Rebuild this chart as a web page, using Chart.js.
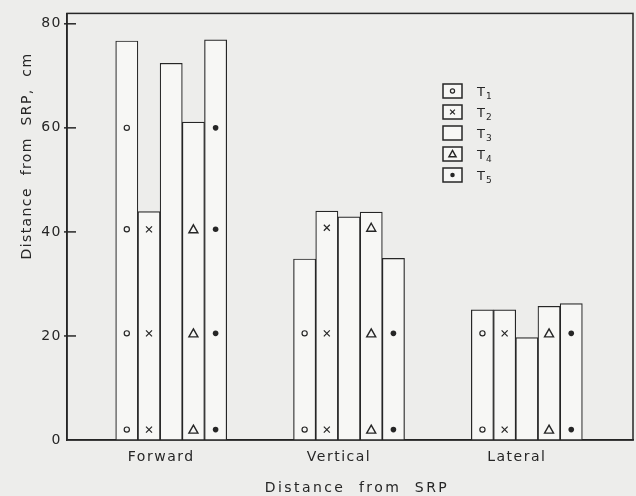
<!DOCTYPE html>
<html lang="en">
<head>
<meta charset="UTF-8">
<title>Distance from SRP</title>
<script src="https://cdn.jsdelivr.net/npm/chart.js"></script>
<style>
  html, body { margin: 0; padding: 0; background: #ededeb; }
  .chart-wrapper { position: relative; width: 636px; height: 496px; }
</style>
</head>
<body>
<div class="chart-wrapper"><canvas id="srpChart"></canvas></div>
<script>
// values (cm)
const categories = ['Forward', 'Vertical', 'Lateral'];
const seriesNames = ['1', '2', '3', '4', '5'];   // subscripts of T
const markKinds = ['circle', 'cross', 'none', 'triangle', 'dot'];
const t1 = [76.7, 34.8, 25.0];
const t2 = [43.9, 44.0, 25.0];
const t3 = [72.4, 42.9, 19.7];
const t4 = [61.1, 43.8, 25.7];
const t5 = [76.9, 34.9, 26.2];
// heights where the little symbols are printed inside each bar
const t1Marks = [[2, 20.5, 40.5, 60], [2, 20.5], [2, 20.5]];
const t2Marks = [[2, 20.5, 40.5], [2, 20.5, 40.8], [2, 20.5]];
const t3Marks = [[], [], []];
const t4Marks = [[2, 20.5, 40.5], [2, 20.5, 40.8], [2, 20.5]];
const t5Marks = [[2, 20.5, 40.5, 60], [2, 20.5], [2, 20.5]];
const yTicks = [0, 20, 40, 60, 80];

const allSeries = [t1, t2, t3, t4, t5];
const allMarks = [t1Marks, t2Marks, t3Marks, t4Marks, t5Marks];
const ink = '#262626';

Chart.defaults.font.family = "'DejaVu Sans', sans-serif";
Chart.defaults.color = ink;

function drawMark(ctx, kind, x, y, s) {
    ctx.save();
    ctx.strokeStyle = ink;
    ctx.fillStyle = ink;
    ctx.lineWidth = 1.2;
    ctx.beginPath();
    if (kind === 'circle') {
        ctx.arc(x, y, 2.6 * s, 0, Math.PI * 2);
        ctx.stroke();
    } else if (kind === 'dot') {
        ctx.arc(x, y, 2.8 * s, 0, Math.PI * 2);
        ctx.fill();
    } else if (kind === 'cross') {
        ctx.moveTo(x - 3 * s, y - 3 * s); ctx.lineTo(x + 3 * s, y + 3 * s);
        ctx.moveTo(x + 3 * s, y - 3 * s); ctx.lineTo(x - 3 * s, y + 3 * s);
        ctx.stroke();
    } else if (kind === 'triangle') {
        ctx.moveTo(x, y - 4.5 * s);
        ctx.lineTo(x + 4.5 * s, y + 3.5 * s);
        ctx.lineTo(x - 4.5 * s, y + 3.5 * s);
        ctx.closePath();
        ctx.lineWidth = 1.4;
        ctx.stroke();
    }
    ctx.restore();
}

const spacing = {
    id: 'spacing',
    beforeUpdate(chart) { chart.ctx.letterSpacing = '1.5px'; },
    beforeDraw(chart) { chart.ctx.letterSpacing = '1.5px'; }
};

const decorations = {
    id: 'decorations',
    afterDatasetsDraw(chart) {
        const ctx = chart.ctx;
        const y = chart.scales.y;
        const area = chart.chartArea;

        // symbols inside the bars
        allMarks.forEach((marks, i) => {
            const meta = chart.getDatasetMeta(i);
            meta.data.forEach((bar, j) => {
                marks[j].forEach(level => drawMark(ctx, markKinds[i], bar.x, y.getPixelForValue(level), 1));
            });
        });

        // frame round the plot
        ctx.save();
        ctx.strokeStyle = ink;
        ctx.lineWidth = 1.5;
        ctx.strokeRect(area.left, area.top, area.right - area.left, area.bottom - area.top);

        // inward tick marks
        yTicks.filter(v => v > 0).forEach(v => {
            const py = y.getPixelForValue(v);
            ctx.beginPath();
            ctx.moveTo(area.left - 3, py);
            ctx.lineTo(area.left + 9, py);
            ctx.stroke();
        });

        // legend
        ctx.lineWidth = 1.5;
        seriesNames.forEach((n, i) => {
            const bx = 443, by = 84 + i * 21;
            ctx.fillStyle = '#f7f7f5';
            ctx.fillRect(bx, by, 19, 14);
            ctx.strokeRect(bx, by, 19, 14);
            drawMark(ctx, markKinds[i], bx + 9.5, by + 7, 0.8);
            ctx.fillStyle = ink;
            ctx.letterSpacing = '0px';
            ctx.textBaseline = 'alphabetic';
            ctx.textAlign = 'left';
            ctx.font = "13px 'DejaVu Sans'";
            ctx.fillText('T', 477, by + 12);
            ctx.font = "9px 'DejaVu Sans'";
            ctx.fillText(n, 486, by + 15);
        });

        // axis titles
        ctx.font = "14px 'DejaVu Sans'";
        ctx.textAlign = 'center';
        ctx.textBaseline = 'middle';
        ctx.letterSpacing = '2.4px';
        ctx.fillText('Distance  from  SRP', 357, 488);
        ctx.letterSpacing = '1.4px';
        ctx.translate(27, 156);
        ctx.rotate(-Math.PI / 2);
        ctx.fillText('Distance  from  SRP,  cm', 0, 0);
        ctx.restore();
    }
};

const ctx = document.getElementById('srpChart').getContext('2d');
new Chart(ctx, {
    type: 'bar',
    data: {
        datasets: allSeries.map((vals, i) => ({
            label: 'T' + seriesNames[i],
            data: vals.map((v, j) => ({ x: j, y: v })),
            backgroundColor: '#f7f7f5',
            borderColor: ink,
            borderWidth: 1.2,
            borderSkipped: 'bottom',
            barThickness: 22.2
        }))
    },
    options: {
        responsive: true,
        maintainAspectRatio: false,
        animation: false,
        layout: { padding: { top: 12, right: 3, left: 0, bottom: 0 } },
        plugins: {
            legend: { display: false },
            tooltip: { enabled: false }
        },
        scales: {
            x: {
                type: 'linear',
                min: -0.586,
                max: 2.597,
                offset: false,
                afterFit(s) { s.height = 56; },
                grid: { display: false, drawTicks: false },
                border: { color: ink, width: 1.5 },
                ticks: {
                    stepSize: 1,
                    includeBounds: false,
                    padding: 9,
                    labelOffset: -10,
                    font: { size: 14 },
                    callback: v => categories[v] ?? ''
                }
            },
            y: {
                min: 0,
                max: 82,
                afterFit(s) { s.width = 67; },
                grid: { display: false, drawTicks: false },
                border: { color: ink, width: 1.5 },
                ticks: {
                    stepSize: 20,
                    includeBounds: false,
                    padding: 5,
                    font: { size: 14 }
                }
            }
        }
    },
    plugins: [spacing, decorations]
});
</script>
</body>
</html>
